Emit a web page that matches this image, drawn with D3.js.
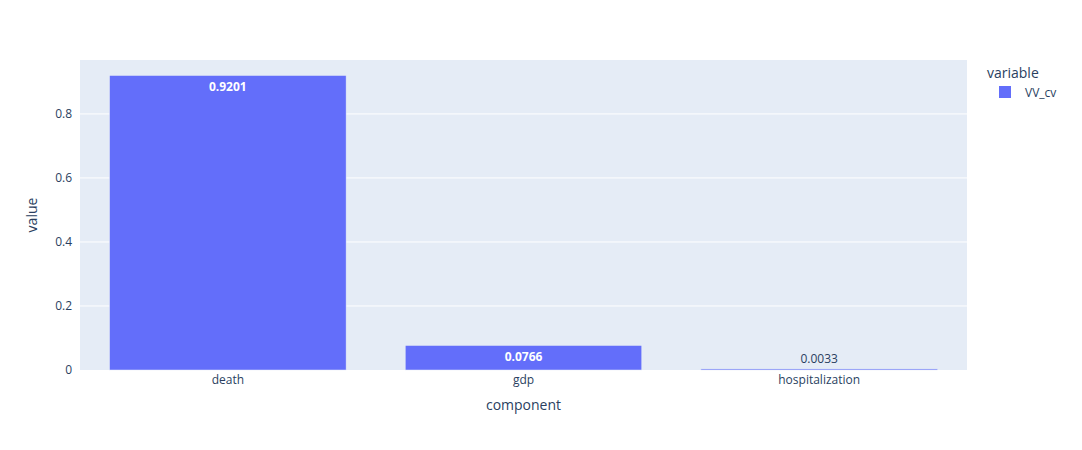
<!DOCTYPE html>
<html>
<head>
<meta charset="utf-8">
<script src="https://cdn.jsdelivr.net/npm/d3@7"></script>
<style>
  body { margin: 0; background: #fff; }
  text { font-family: "Open Sans", verdana, arial, sans-serif; }
</style>
</head>
<body>
<svg id="chart" width="1082" height="450"></svg>
<script>
const components = ["death", "gdp", "hospitalization"]
const values = [0.9201, 0.0766, 0.0033]
const labels = ["0.9201", "0.0766", "0.0033"]
const yTicks = [0, 0.2, 0.4, 0.6, 0.8]
const seriesName = "VV_cv"

const width = 1082, height = 450
const margin = { top: 60, right: 115, bottom: 80, left: 80 }
const innerW = width - margin.left - margin.right
const innerH = height - margin.top - margin.bottom

const svg = d3.select("#chart")
const g = svg.append("g").attr("transform", `translate(${margin.left},${margin.top})`)

g.append("rect")
  .attr("width", innerW)
  .attr("height", innerH)
  .attr("fill", "#E5ECF6")

const x = d3.scaleBand()
  .domain(components)
  .range([0, innerW])
  .paddingInner(0.2)
  .paddingOuter(0.1)

const y = d3.scaleLinear()
  .domain([0, d3.max(values) * 1.0526])
  .range([innerH, 0])

// gridlines
g.append("g").selectAll("line")
  .data(yTicks.filter(d => d > 0))
  .enter()
  .append("line")
  .attr("x1", 0)
  .attr("x2", innerW)
  .attr("y1", d => y(d))
  .attr("y2", d => y(d))
  .attr("stroke", "#fff")
  .attr("stroke-width", 1)

// y axis
const yAxis = d3.axisLeft(y).tickValues(yTicks).tickSize(0).tickPadding(8)
  .tickFormat(d => d === 0 ? "0" : d3.format(".1f")(d))
const yG = g.append("g").call(yAxis)
yG.select(".domain").remove()
yG.selectAll("text").attr("font-size", 12).attr("fill", "#2a3f5f")
  .style("font-family", '"Open Sans", verdana, arial, sans-serif')

// x axis
const xAxis = d3.axisBottom(x).tickSize(0).tickPadding(5)
const xG = g.append("g").attr("transform", `translate(0,${innerH})`).call(xAxis)
xG.select(".domain").remove()
xG.selectAll("text").attr("font-size", 12).attr("fill", "#2a3f5f")
  .style("font-family", '"Open Sans", verdana, arial, sans-serif')

const data = components.map((c, i) => ({ c, v: values[i], label: labels[i] }))

g.append("g").selectAll("rect")
  .data(data)
  .enter()
  .append("rect")
  .attr("x", d => x(d.c))
  .attr("y", d => y(d.v))
  .attr("width", x.bandwidth())
  .attr("height", d => innerH - y(d.v))
  .attr("fill", "#636efa")
  .attr("stroke", "#E5ECF6")
  .attr("stroke-width", 0.5)

// bar labels: inside if it fits, outside otherwise
g.append("g").selectAll("text")
  .data(data)
  .enter()
  .append("text")
  .attr("x", d => x(d.c) + x.bandwidth() / 2)
  .attr("y", d => {
    const h = innerH - y(d.v)
    return h > 18 ? y(d.v) + 16 : y(d.v) - 6
  })
  .attr("text-anchor", "middle")
  .attr("font-size", 12)
  .attr("font-weight", d => (innerH - y(d.v)) > 18 ? "bold" : "normal")
  .attr("fill", d => (innerH - y(d.v)) > 18 ? "#fff" : "#2a3f5f")
  .text(d => d.label)

// axis titles
svg.append("text")
  .attr("x", margin.left + innerW / 2)
  .attr("y", 410)
  .attr("text-anchor", "middle")
  .attr("font-size", 14)
  .attr("fill", "#2a3f5f")
  .text("component")

svg.append("text")
  .attr("transform", `translate(37,${margin.top + innerH / 2}) rotate(-90)`)
  .attr("text-anchor", "middle")
  .attr("font-size", 14)
  .attr("fill", "#2a3f5f")
  .text("value")

// legend
const legG = svg.append("g").attr("transform", "translate(987,0)")
legG.append("text")
  .attr("x", 0)
  .attr("y", 78)
  .attr("font-size", 14)
  .attr("fill", "#2a3f5f")
  .text("variable")
legG.append("rect")
  .attr("x", 12)
  .attr("y", 86)
  .attr("width", 12)
  .attr("height", 12)
  .attr("fill", "#636efa")
legG.append("text")
  .attr("x", 38)
  .attr("y", 97)
  .attr("font-size", 12)
  .attr("fill", "#2a3f5f")
  .text(seriesName)
</script>
</body>
</html>
